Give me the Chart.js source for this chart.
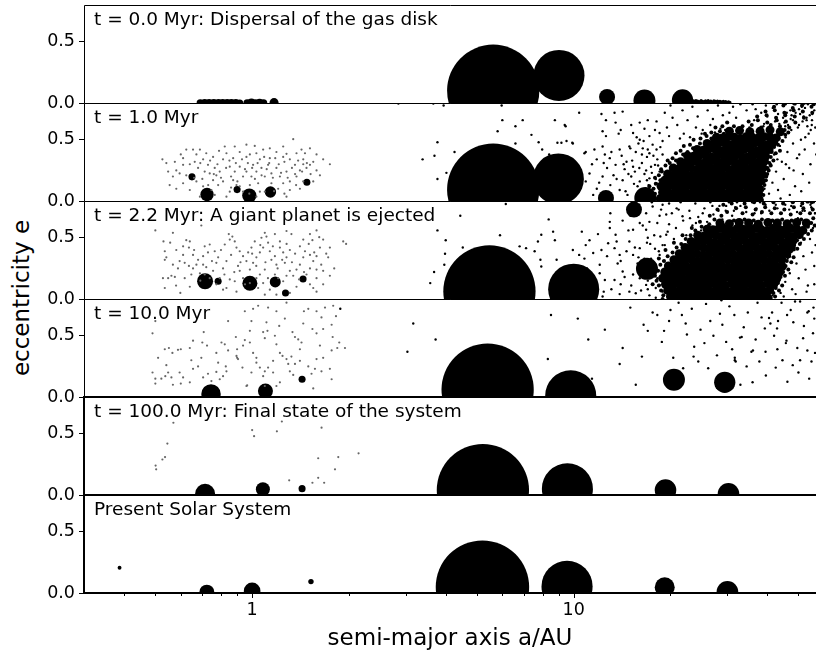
<!DOCTYPE html>
<html>
<head>
<meta charset="utf-8">
<title>Orbital evolution: eccentricity vs semi-major axis</title>
<script src="https://cdn.jsdelivr.net/npm/chart.js@4.4.1/dist/chart.umd.min.js"></script>
<style>
  html, body { margin: 0; padding: 0; background: #fff; overflow: hidden; }
  #figure { position: relative; width: 816px; height: 656px; font-family: 'DejaVu Sans', sans-serif; color: #000; }
  #figure canvas { position: absolute; left: 0; }
  #ylabel { position: absolute; left: 21px; top: 298px; transform: translate(-50%, -50%) rotate(-90deg);
            font-size: 23px; white-space: nowrap; }
</style>
</head>
<body>
<div id="figure">
  <div id="ylabel">eccentricity e</div>
</div>
<script>
// ─── Panel titles ─────────────────────────────────────────────────────────
const panelTitles = [
  't = 0.0 Myr: Dispersal of the gas disk',
  't = 1.0 Myr',
  't = 2.2 Myr: A giant planet is ejected',
  't = 10.0 Myr',
  't = 100.0 Myr: Final state of the system',
  'Present Solar System'
];

// ─── Axis ticks ───────────────────────────────────────────────────────────
const xTicks = [0.4, 0.5, 0.6, 0.7, 0.8, 0.9, 1, 2, 3, 4, 5, 6, 7, 8, 9, 10, 20, 30, 40, 50];
const xTickLabels = { 1: '1', 10: '10' };
const yTicks = [0, 0.5];

// ─── Giant planets: [a (AU), e, mass (Earth masses)] ──────────────────────
const giantsT0 = [[5.62, 0.10, 310], [9.0, 0.225, 95], [12.7, 0.05, 9.3], [16.6, 0.02, 17.6], [21.8, 0.025, 16.5]];
const giantsT1 = [[5.62, 0.092, 310], [8.96, 0.18, 95], [12.6, 0.025, 9.3], [16.7, 0.025, 17.6], [21.8, 0.02, 16.5]];
const giantsT2 = [[5.47, 0.063, 310], [10.0, 0.08, 95], [16.9, 0.246, 17.6], [15.4, 0.73, 9.3], [24.5, 0.15, 16.5]];
const giantsT10 = [[5.40, 0.06, 310], [9.79, 0.01, 95], [20.5, 0.14, 17.6], [29.5, 0.12, 16.5]];
const giantsT100 = [[5.22, 0.04, 310], [9.56, 0.05, 95], [19.3, 0.04, 17], [30.3, 0.01, 17]];
const giantsNow = [[5.203, 0.048, 317.8], [9.537, 0.054, 95.2], [19.19, 0.047, 14.5], [30.07, 0.009, 17.1]];

// ─── Rocky embryos / planets: [a (AU), e, mass (Earth masses)] ─────────────
const rockyT0 = [[0.69, 0, 0.2], [0.712, 0, 0.22], [0.735, 0.003, 0.2], [0.76, 0, 0.24], [0.786, 0.002, 0.2],
  [0.81, 0, 0.22], [0.836, 0.002, 0.2], [0.862, 0, 0.24], [0.89, 0.002, 0.2], [0.915, 0, 0.18],
  [0.965, 0, 0.2], [0.995, 0.003, 0.24], [1.025, 0, 0.2], [1.055, 0.002, 0.22], [1.085, 0, 0.2], [1.17, 0.003, 0.3]];
const rockyT1 = [[0.65, 0.197, 0.18], [0.724, 0.053, 0.65], [0.898, 0.093, 0.18], [0.98, 0.044, 0.74], [1.14, 0.074, 0.47], [1.48, 0.153, 0.18]];
const rockyT2 = [[0.714, 0.145, 0.93], [0.784, 0.145, 0.18], [0.984, 0.129, 0.82], [1.18, 0.139, 0.44], [1.27, 0.049, 0.18], [1.44, 0.164, 0.18]];
const rockyT10 = [[0.745, 0.025, 1.37], [1.10, 0.048, 0.82], [1.43, 0.145, 0.18]];
const rockyT100 = [[0.714, 0.01, 1.45], [1.08, 0.047, 0.71], [1.43, 0.052, 0.18]];
const rockyNow = [[0.387, 0.206, 0.055], [0.723, 0.007, 0.815], [1.0, 0.017, 1.0], [1.524, 0.093, 0.107]];

// ─── Inner planetesimals (flat a, e pairs) ────────────────────────────────
const innerT1 = [
  1.342,.505, .526,.34, .541,.31, .624,.42, .655,.42, .688,.42, .789,.41, .822,.445, .883,.445, 1.019,.45,
  .915,.40, .984,.38, 1.082,.42, 1.19,.40, 1.279,.385, 1.424,.42, 1.549,.32, 1.513,.295, 1.745,.30, 1.442,.34,
  1.31,.34, 1.249,.36, 1.135,.35, 1.057,.34, .96,.36, .873,.35, .812,.34, .756,.36, .704,.34, .663,.32,
  .61,.295, .581,.25, .567,.20, .554,.13, .581,.10, .61,.145, .624,.21, .679,.27, .712,.24, .729,.295,
  .765,.27, .774,.21, .793,.24, .812,.16, .784,.13, .747,.09, .704,.12, .671,.16, .64,.09, .852,.28,
  .883,.24, .915,.28, .937,.20, .873,.17, .915,.12, .852,.076, .832,.035, 1.007,.295, 1.031,.24, 1.069,.27,
  1.121,.295, 1.095,.20, 1.148,.225, 1.19,.27, 1.22,.20, 1.279,.24, 1.31,.16, 1.249,.145, 1.374,.20, 1.408,.25,
  1.359,.295, 1.442,.16, 1.549,.16, 1.586,.25, 1.625,.21, 1.408,.10, 1.31,.09, 1.279,.035, 1.044,.145, 1.057,.076,
  1.031,.035, .937,.076, .894,.13, .688,.035, .738,.225, .756,.17, .995,.20, .96,.24, .984,.13, 1.148,.145,
  1.205,.10, 1.476,.27, 1.442,.30, 1.663,.34, 1.586,.38, 1.374,.39, 1.031,.39, .832,.39, .72,.39, .671,.38,
  .61,.35, .575,.32, .595,.225, .548,.24, .96,.46, 1.135,.43, 1.249,.445, 1.46,.39, 1.513,.43, 1.095,.076,
  .765,.05, .60,.38, .64,.30, .66,.19, .69,.31, .70,.18, .74,.33, .76,.22, .78,.30, .80,.19,
  .83,.27, .85,.33, .86,.20, .89,.31, .90,.16, .93,.34, .95,.26, .97,.31, 1.00,.27, 1.02,.18,
  1.04,.31, 1.07,.21, 1.09,.36, 1.11,.26, 1.13,.31, 1.16,.19, 1.18,.35, 1.21,.30, 1.23,.23, 1.26,.32,
  1.29,.19, 1.33,.27, 1.36,.22, 1.39,.33, 1.43,.24, 1.48,.31, 1.52,.22, .86,.11, 1.17,.08, 1.37,.13,
  .73,.13, .98,.06, 1.26,.06
];
const innerT2 = [
  .50,.56, .567,.54, .695,.60, .846,.53, .868,.51, 1.095,.54, 1.108,.51, 1.279,.555, 1.325,.53, 1.513,.53,
  1.586,.56, 1.617,.505, 1.54,.48, 1.96,.45, 1.92,.47, .53,.47, .556,.46, .535,.39, .541,.34, .535,.32,
  .528,.17, .548,.17, .561,.19, .575,.18, .535,.09, .598,.05, .624,.48, .64,.47, .636,.42, .655,.36,
  .617,.295, .636,.27, .655,.25, .671,.28, .617,.17, .647,.20, .679,.32, .704,.35, .729,.38, .712,.43,
  .738,.445, .765,.39, .784,.34, .774,.295, .812,.25, .832,.31, .822,.445, .852,.485, .883,.47, .894,.42,
  .915,.39, .937,.35, .904,.27, .915,.23, .937,.17, .883,.145, .852,.16, .832,.09, .894,.06, .984,.24,
  1.007,.295, 1.031,.34, 1.057,.38, 1.082,.42, 1.121,.46, 1.135,.39, 1.148,.32, 1.177,.35, 1.19,.28, 1.22,.42,
  1.249,.38, 1.279,.34, 1.31,.40, 1.264,.295, 1.095,.24, 1.057,.20, 1.082,.13, 1.044,.09, 1.135,.076, 1.095,.035,
  1.31,.23, 1.342,.19, 1.374,.24, 1.408,.28, 1.442,.34, 1.46,.39, 1.513,.36, 1.549,.31, 1.586,.35, 1.625,.42,
  1.513,.25, 1.586,.24, 1.663,.23, 1.745,.19, 1.724,.34, 1.586,.17, 1.513,.12, 1.549,.09, 1.374,.10, 1.31,.05,
  1.19,.035, .984,.13, 1.031,.17, .756,.23, .738,.17, .793,.17, .774,.12, .812,.076, .704,.28, .688,.21,
  .712,.20, .588,.25, .595,.31, .567,.28, .61,.36, .581,.40, .61,.43, 1.476,.20, 1.205,.17, 1.249,.145,
  1.279,.19, 1.177,.20, .96,.31, .972,.38, .995,.42, 1.019,.47, 1.069,.50, 1.177,.53, 1.22,.47, 1.408,.43,
  1.442,.485, 1.663,.485, 1.745,.42, 1.663,.12, 1.586,.06, .66,.40, .69,.15, .72,.26, .75,.31, .80,.40,
  .82,.20, .86,.36, .88,.22, .92,.30, .95,.12, 1.00,.37, 1.03,.27, 1.06,.44, 1.10,.30, 1.12,.17,
  1.16,.43, 1.20,.25, 1.24,.32, 1.28,.45, 1.33,.30, 1.36,.37, 1.40,.16, 1.45,.22, 1.50,.45, 1.56,.38,
  1.64,.28, 1.70,.37, 1.80,.25, .58,.11, .64,.10
];
const innerT10 = [
  .49,.52, .50,.62, .842,.62, .51,.32, .535,.39, .551,.40, .565,.36, .588,.385, .60,.39, .541,.26,
  .49,.20, .50,.15, .522,.15, .537,.17, .548,.20, .50,.11, .567,.10, .561,.16, .595,.20, .61,.16,
  .647,.30, .655,.23, .679,.25, .695,.32, .70,.445, .707,.53, .724,.42, .64,.40, .655,.46, .774,.36,
  .784,.28, .822,.43, .832,.21, .812,.17, .828,.25, .894,.335, .904,.31, .933,.24, .937,.42, .949,.465,
  .984,.445, 1.007,.36, 1.031,.32, .965,.095, .995,.20, 1.031,.28, 1.057,.24, 1.082,.17, 1.095,.21, 1.095,.48,
  1.116,.54, 1.177,.50, 1.19,.43, 1.214,.58, 1.22,.36, 1.243,.335, 1.264,.64, 1.279,.31, 1.295,.27, 1.31,.21,
  1.335,.53, 1.359,.49, 1.391,.47, 1.408,.39, 1.424,.445, 1.442,.60, 1.449,.70, 1.495,.72, 1.586,.70, 1.685,.73,
  1.787,.745, 1.823,.66, 1.643,.65, 1.54,.555, 1.586,.52, 1.663,.555, 1.767,.59, 1.78,.49, 1.866,.445, 1.84,.40,
  1.944,.40, 1.767,.38, 1.625,.42, 1.663,.32, 1.586,.31, 1.495,.25, 1.568,.23, 1.643,.21, 1.745,.23, 1.53,.19,
  1.549,.07, 1.767,.145, 1.408,.295, 1.325,.33, 1.162,.295, 1.121,.24, 1.162,.20, 1.22,.12, 1.19,.09, 1.342,.18,
  1.359,.27, .898,.32, .949,.70, 1.007,.72, 1.044,.745, 1.121,.73, 1.279,.77, 1.19,.70, .995,.62, 1.108,.61,
  1.082,.53, .984,.54, .89,.49, .898,.39, .803,.445, .842,.38, .96,.09, 1.095,.09, .793,.145, .747,.13,
  .774,.205, .729,.19, .704,.16, .64,.12, .60,.11
];
const innerT100 = [
  .569,.59, .545,.42, .536,.31, .526,.29, .501,.24, .503,.21, 1.00,.53, 1.014,.48, 1.194,.52, 1.237,.60,
  1.644,.55, 1.605,.30, 1.853,.31, 2.143,.34, 1.81,.21, 1.605,.14, 1.54,.10, 1.675,.10, 1.304,.12
];

// ─── Outer planetesimals (flat a, e pairs) ────────────────────────────────
const outerT0 = [
  23.4,.01, 23.6,.018, 23.7,.005, 23.9,.012, 24.0,.02, 24.2,.008, 24.3,.015, 24.5,.003, 24.7,.012, 24.9,.02,
  25.0,.007, 25.2,.014, 25.3,.004, 25.6,.011, 25.7,.018, 25.9,.006, 26.0,.013, 26.2,.02, 26.4,.009, 26.6,.004,
  26.7,.016, 26.9,.01, 27.1,.005, 27.3,.018, 27.4,.008, 27.6,.013, 27.8,.004, 28.0,.016, 28.2,.009, 28.4,.005,
  28.5,.013, 28.8,.009, 29.0,.004, 29.2,.013, 29.5,.007, 29.7,.012, 30.0,.005, 30.3,.01, 30.6,.006
];
const outerT1 = [
  2.85,.795, 3.66,.795, 3.94,.78, 5.97,.78, 6.0,.66, 6.94,.66, 6.59,.61, 5.80,.57, 7.39,.54, 8.74,.66,
  9.44,.61, 3.77,.48, 6.59,.47, 7.78,.48, 7.98,.42, 8.9,.475, 9.16,.475, 9.9,.475, 4.26,.40, 3.69,.37,
  3.39,.34, 4.02,.23, 3.77,.18, 8.39,.38,
  9.38,.62, 12.2,.71, 13.4,.72, 14.2,.73, 12.6,.66, 13.5,.64, 16.05,.64, 17.0,.66, 18.1,.65, 12.3,.57,
  12.6,.53, 15.3,.555, 16.05,.50, 17.2,.53, 18.5,.555, 18.9,.49, 10.9,.40, 11.6,.42, 12.3,.445, 13.9,.42,
  14.9,.445, 15.6,.40, 16.4,.43, 17.2,.39, 18.1,.42, 18.9,.38, 11.8,.34, 12.95,.35, 13.5,.295, 14.6,.32,
  15.3,.28, 16.3,.31, 16.8,.25, 17.9,.295, 18.5,.24, 11.2,.225, 12.3,.20, 13.3,.21, 14.2,.17, 15.1,.20,
  16.05,.16, 17.2,.185, 18.1,.145, 11.8,.10, 13.9,.09, 14.7,.05, 16.4,.076, 17.6,.05, 10.4,.72, 9.5,.49,
  9.94,.47, 10.8,.39, 15.8,.12, 16.6,.22, 17.4,.28, 17.8,.10, 18.2,.34, 16.9,.36, 17.6,.46, 15.2,.33,
  14.4,.26, 13.0,.13, 12.7,.27, 16.2,.03, 17.1,.13, 18.4,.02, 15.5,.24, 14.1,.37, 15.9,.47, 17.9,.58,
  16.6,.59, 19.5,.60, 20.3,.68, 21.0,.62,
  12.0,.15, 12.4,.31, 12.9,.05, 13.1,.40, 13.6,.18, 13.8,.55, 14.3,.30, 14.5,.08, 14.8,.22, 15.0,.43,
  15.4,.14, 15.7,.52, 16.0,.27, 16.3,.38, 16.7,.09, 16.9,.17, 17.3,.07, 17.5,.23, 17.7,.37, 18.0,.18,
  18.3,.29, 18.6,.44, 17.0,.42, 16.5,.49, 15.1,.62, 14.0,.58, 12.5,.38, 11.4,.30, 10.9,.16, 11.5,.05,
  19.2,.72, 20.0,.78, 21.8,.74, 22.6,.66, 23.4,.77, 24.3,.69, 25.2,.58, 26.1,.74, 27.1,.67, 28.1,.78,
  29.1,.70, 30.2,.64, 31.3,.77, 22.0,.55, 24.0,.60, 26.6,.62, 28.6,.59, 30.5,.72, 33.0,.79, 19.8,.53,
  21.4,.51, 23.0,.52, 25.0,.55, 27.5,.56, 29.6,.58, 32.0,.68, 34.5,.74, 36.0,.79,
  38.5,.03, 39.2,.10, 39.8,.20, 40.5,.06, 41.0,.30, 41.5,.15, 42.0,.38, 42.6,.24, 43.2,.09, 43.8,.45,
  44.4,.32, 45.0,.18, 45.6,.52, 46.2,.40, 46.8,.27, 47.5,.58, 48.1,.47, 48.8,.12, 49.5,.35, 50.2,.62,
  50.9,.50, 51.6,.22, 52.3,.42, 53.0,.66, 53.8,.55, 54.5,.30, 55.2,.71, 55.9,.47, 56.4,.60, 44.0,.02,
  47.0,.05, 51.0,.08, 54.0,.15, 56.8,.38, 39.3,.30, 40.0,.37, 41.2,.43, 42.4,.50, 44.0,.55, 45.5,.61,
  47.3,.67, 49.0,.72, 51.2,.77, 53.5,.79, 38.6,.15, 39.0,.24, 43.0,.34, 45.7,.30, 48.3,.25, 50.3,.38,
  52.5,.52, 55.0,.62,
  35.2,.60, 36.4,.66, 37.7,.58, 38.3,.72, 39.1,.63, 40.0,.69, 40.9,.60, 41.6,.76, 42.3,.65, 43.2,.71,
  44.0,.59, 44.8,.68, 45.6,.79, 46.4,.62, 47.2,.74, 48.1,.66, 48.9,.79, 49.8,.60, 50.6,.71, 51.5,.65,
  52.4,.76, 53.3,.61, 54.2,.70, 55.1,.66, 56.0,.74, 36.8,.75, 39.6,.78, 43.6,.63, 47.6,.70, 51.9,.69,
  55.5,.79, 42.8,.79, 46.0,.72, 50.2,.75, 54.6,.58, 38.9,.61, 45.2,.64, 53.0,.68
];
// rim of the dense disc (medium dots)
const edgeT1 = [
  17.5,.03, 17.9,.06, 17.7,.10, 18.0,.14, 17.9,.19, 18.4,.21, 18.7,.26, 19.3,.29, 19.6,.33, 20.3,.35,
  20.8,.39, 21.5,.41, 22.0,.45, 23.0,.46, 23.6,.50, 24.8,.51, 25.6,.55, 26.8,.56, 27.6,.60, 29.0,.61,
  30.0,.64, 17.2,.12, 18.3,.01, 18.6,.17, 19.9,.31, 21.9,.38, 23.5,.43, 25.9,.53, 28.5,.57, 31.5,.61,
  18.8,.24, 20.8,.33, 22.6,.40, 24.7,.47, 26.8,.51, 29.3,.55,
  38.5,.01, 38.9,.05, 38.6,.09, 39.2,.13, 39.6,.17, 40.0,.22, 40.1,.27, 40.6,.31, 41.0,.36, 41.3,.40,
  42.0,.44, 42.6,.48, 43.4,.51, 44.2,.55, 45.3,.58, 38.0,.03, 38.5,.11, 39.7,.20, 40.4,.25, 41.8,.33,
  42.5,.39, 43.2,.46, 44.6,.49, 45.5,.54, 46.5,.56, 39.0,.16, 41.0,.29, 43.8,.41,
  33.5,.61, 35.8,.62, 38.3,.60, 41.0,.62, 43.8,.61, 46.8,.60, 35.0,.65, 37.4,.66, 40.0,.64, 42.8,.66,
  45.7,.65, 48.9,.64, 37.2,.69, 39.8,.70, 42.6,.68, 45.5,.70, 48.7,.69, 52.0,.68, 39.5,.73, 42.2,.74,
  45.2,.72, 48.3,.74, 51.6,.73, 55.2,.72, 42.0,.77, 44.9,.78, 48.0,.76, 51.3,.78, 54.9,.77, 45.0,.80,
  48.5,.795, 52.0,.80, 55.8,.79
];
const coreT1 = [
  18.6,.02, 19.5,.03, 20.3,.015, 21.2,.025, 22.1,.02, 23.1,.03, 24.1,.02, 25.2,.015, 26.3,.025, 27.4,.02,
  28.7,.03, 29.9,.02, 31.2,.025, 32.6,.015, 34.0,.03, 35.5,.02, 37.1,.025,
  18.9,.07, 19.8,.065, 20.7,.075, 21.6,.07, 22.6,.06, 23.5,.075, 24.6,.07, 25.7,.065, 26.8,.075, 28.0,.07,
  29.2,.06, 30.5,.075, 31.8,.07, 33.2,.065, 34.7,.075, 36.2,.07, 37.6,.06,
  18.7,.12, 19.6,.115, 20.4,.125, 21.4,.12, 22.3,.11, 23.3,.125, 24.3,.12, 25.4,.115, 26.5,.125, 27.7,.12,
  28.9,.11, 30.2,.125, 31.5,.12, 32.9,.115, 34.3,.125, 35.8,.12, 37.4,.115,
  19.2,.17, 20.0,.165, 20.9,.175, 21.8,.17, 22.8,.16, 23.8,.175, 24.8,.17, 25.9,.165, 27.1,.175, 28.3,.17,
  29.5,.16, 30.8,.175, 32.2,.17, 33.6,.165, 35.1,.175, 36.6,.17, 38.2,.165,
  19.6,.22, 20.5,.215, 21.4,.225, 22.3,.22, 23.3,.21, 24.3,.225, 25.4,.22, 26.5,.215, 27.7,.225, 28.9,.22,
  30.2,.21, 31.5,.225, 32.9,.22, 34.3,.215, 35.8,.225, 37.4,.22, 38.6,.215,
  20.4,.27, 21.3,.265, 22.2,.275, 23.2,.27, 24.2,.26, 25.3,.275, 26.4,.27, 27.5,.265, 28.7,.275, 30.0,.27,
  31.3,.26, 32.7,.275, 34.1,.27, 35.6,.265, 37.2,.275, 38.8,.27,
  21.5,.32, 22.4,.315, 23.4,.325, 24.4,.32, 25.5,.31, 26.6,.325, 27.8,.32, 29.0,.315, 30.3,.325, 31.6,.32,
  33.0,.31, 34.4,.325, 35.9,.32, 37.5,.315, 39.2,.325,
  22.6,.37, 23.6,.365, 24.6,.375, 25.7,.37, 26.8,.36, 28.0,.375, 29.2,.37, 30.5,.365, 31.8,.375, 33.2,.37,
  34.7,.36, 36.2,.375, 37.8,.37, 39.5,.365,
  24.2,.42, 25.3,.415, 26.4,.425, 27.6,.42, 28.8,.41, 30.0,.425, 31.3,.42, 32.7,.415, 34.1,.425, 35.6,.42,
  37.2,.41, 38.8,.425, 40.5,.42,
  26.0,.47, 27.1,.465, 28.3,.475, 29.6,.47, 30.9,.46, 32.2,.475, 33.6,.47, 35.1,.465, 36.6,.475, 38.2,.47,
  39.9,.46, 41.6,.475,
  27.8,.52, 29.0,.515, 30.3,.525, 31.6,.52, 33.0,.51, 34.4,.525, 35.9,.52, 37.5,.515, 39.1,.525, 40.8,.52,
  42.6,.515,
  30.5,.57, 32.8,.575, 35.3,.565, 38.0,.57, 40.8,.58, 43.9,.565
];
const outerT2 = [
  6.15,.776, 4.44,.68, 8.36,.65, 3.77,.56, 4.0,.48, 4.52,.42, 5.9,.52, 3.98,.37, 3.96,.28, 3.68,.22,
  3.58,.13, 6.79,.43, 7.11,.415, 7.56,.39, 7.74,.47, 7.93,.525, 8.74,.48, 8.63,.55, 7.88,.32, 7.93,.265,
  8.85,.32, 9.94,.40, 10.6,.55, 10.9,.44, 11.2,.48, 11.5,.375, 11.9,.53, 10.4,.36, 10.8,.33, 12.05,.28,
  12.05,.21, 12.5,.155, 12.4,.06, 12.95,.63, 12.95,.58, 12.8,.455, 13.4,.415, 13.5,.525, 13.9,.36, 13.7,.29,
  14.2,.225, 13.4,.155, 14.9,.06, 15.6,.047, 14.9,.47, 15.3,.565, 16.05,.62, 16.8,.70, 17.6,.755, 16.8,.565,
  17.0,.50, 16.05,.415, 15.3,.36, 15.8,.29, 15.3,.20, 16.05,.17, 16.8,.115, 17.6,.20, 18.0,.28, 18.5,.36,
  18.9,.44, 19.4,.525, 19.8,.61, 19.4,.69, 18.7,.73, 20.9,.74, 21.8,.675, 18.5,.115, 18.9,.06, 20.3,.155,
  17.2,.03, 16.3,.24, 17.4,.33, 14.6,.39, 14.0,.12, 17.9,.41, 18.2,.17, 17.0,.08, 15.9,.34, 16.9,.46,
  11.0,.25, 11.6,.12, 12.2,.40, 12.7,.35, 13.1,.08, 13.6,.47, 14.0,.31, 14.4,.18, 14.8,.56, 15.1,.11,
  15.5,.42, 15.9,.24, 16.2,.07, 16.6,.33, 17.0,.15, 17.3,.45, 17.7,.26, 18.0,.09, 18.4,.39, 18.8,.19,
  19.0,.31, 17.8,.52, 16.4,.60, 15.0,.68, 17.2,.63, 18.5,.68, 14.2,.64, 13.0,.70, 16.0,.77, 17.5,.79,
  19.8,.78, 12.3,.02, 13.9,.04, 19.3,.05, 18.0,.01,
  18.2,.62, 18.9,.77, 19.6,.55, 20.2,.70, 20.8,.58, 21.5,.79, 21.9,.64, 22.4,.52, 22.9,.72, 23.4,.60,
  23.9,.78, 24.4,.67, 24.9,.56, 25.5,.74, 26.0,.63, 26.6,.79, 27.2,.69, 27.8,.59, 28.4,.76, 29.0,.65,
  29.7,.72, 30.4,.79, 31.1,.68, 31.8,.75, 32.5,.62, 20.5,.49, 19.2,.44, 18.6,.51, 23.0,.66, 25.2,.70,
  27.0,.76, 29.3,.61, 21.2,.73, 24.0,.62,
  41.5,.03, 42.5,.09, 43.2,.18, 44.0,.05, 44.8,.26, 45.5,.14, 46.3,.33, 47.0,.21, 47.8,.08, 48.6,.40,
  49.3,.29, 50.1,.17, 50.9,.46, 51.8,.35, 52.6,.24, 53.5,.11, 54.3,.49, 55.1,.38, 56.0,.27, 56.5,.44,
  45.0,.02, 49.0,.04, 53.0,.06, 56.0,.12, 55.5,.58, 53.8,.62, 52.0,.55, 50.5,.58, 56.3,.70, 54.8,.75,
  42.0,.30, 43.5,.36, 46.0,.45, 48.0,.52, 44.5,.42, 40.8,.22, 41.3,.12, 47.5,.60, 49.8,.66, 51.5,.72,
  55.8,.79, 53.2,.79,
  31.5,.72, 33.0,.76, 34.4,.71, 35.9,.79, 37.0,.74, 38.3,.70, 39.5,.77, 40.6,.72, 41.8,.79, 43.0,.74,
  44.3,.70, 45.5,.77, 46.8,.73, 48.2,.79, 49.5,.71, 50.9,.76, 52.3,.72, 53.7,.79, 55.1,.74, 56.3,.70,
  32.2,.79, 36.5,.70, 42.5,.77, 47.5,.76, 51.5,.79, 54.5,.77, 38.0,.79, 44.8,.79, 29.8,.76, 28.2,.72
];
const edgeT2 = [
  19.0,.03, 18.7,.07, 18.4,.11, 18.1,.15, 17.9,.19, 18.3,.23, 18.6,.28, 19.1,.31, 19.6,.35, 20.3,.38,
  20.9,.42, 21.6,.45, 22.3,.49, 23.1,.52, 23.9,.56, 25.0,.59, 26.4,.61, 27.4,.65, 28.8,.68, 30.0,.71,
  18.9,.0, 17.6,.12, 17.9,.25, 18.4,.33, 19.3,.40, 20.5,.46, 21.8,.52, 23.3,.58, 24.7,.63, 26.5,.68,
  28.0,.73, 29.2,.77, 31.0,.78,
  41.0,.01, 41.8,.05, 42.5,.09, 43.2,.13, 44.0,.18, 44.8,.22, 45.6,.27, 46.0,.31, 46.8,.35, 47.4,.39,
  48.5,.44, 49.5,.48, 51.0,.51, 52.4,.55, 53.5,.59, 54.8,.62, 55.6,.66, 42.3,.02, 43.5,.07, 44.5,.11,
  45.4,.19, 46.5,.24, 47.5,.30, 48.3,.34, 49.6,.41, 50.5,.45, 52.0,.49, 53.6,.53, 55.0,.56, 56.2,.60,
  31.5,.64, 34.0,.65, 36.3,.64, 38.5,.65, 41.5,.64, 44.5,.65, 47.6,.64, 51.0,.65, 33.5,.70, 36.0,.69,
  38.5,.71, 41.2,.70, 44.1,.70, 47.3,.69, 50.7,.70, 54.3,.70,
  32.0,.74, 34.3,.75, 36.8,.73, 39.4,.75, 42.2,.74, 45.2,.73, 48.4,.75, 51.8,.74, 55.4,.73, 34.0,.78,
  36.4,.79, 39.0,.78, 41.8,.79, 44.8,.78, 48.0,.79, 51.4,.78, 55.0,.79
];
const coreT2 = [
  20.0,.02, 20.9,.03, 21.8,.015, 22.8,.025, 23.8,.02, 24.8,.03, 25.9,.015, 27.1,.025, 28.3,.02, 29.5,.03,
  30.8,.02, 32.2,.025, 33.6,.015, 35.1,.03, 36.6,.02, 38.2,.025, 39.9,.02,
  19.6,.07, 20.5,.065, 21.4,.075, 22.3,.07, 23.3,.06, 24.3,.075, 25.4,.07, 26.5,.065, 27.7,.075, 28.9,.07,
  30.2,.06, 31.5,.075, 32.9,.07, 34.3,.065, 35.8,.075, 37.4,.07, 39.0,.06, 40.7,.075,
  19.3,.12, 20.2,.115, 21.1,.125, 22.0,.12, 23.0,.11, 24.0,.125, 25.0,.12, 26.1,.115, 27.3,.125, 28.5,.12,
  29.7,.11, 31.0,.125, 32.4,.12, 33.8,.115, 35.3,.125, 36.9,.12, 38.5,.11, 40.2,.125, 41.9,.12,
  18.9,.17, 19.8,.165, 20.6,.175, 21.5,.17, 22.5,.16, 23.5,.175, 24.5,.17, 25.6,.165, 26.7,.175, 27.9,.17,
  29.1,.16, 30.4,.175, 31.7,.17, 33.1,.165, 34.6,.175, 36.1,.17, 37.7,.16, 39.3,.175, 41.0,.17, 42.8,.165,
  19.2,.22, 20.1,.215, 21.0,.225, 21.9,.22, 22.9,.21, 23.9,.225, 24.9,.22, 26.0,.215, 27.2,.225, 28.4,.22,
  29.6,.21, 30.9,.225, 32.3,.22, 33.7,.215, 35.2,.225, 36.7,.22, 38.3,.21, 40.0,.225, 41.8,.22, 43.6,.215,
  19.7,.27, 20.5,.265, 21.4,.275, 22.4,.27, 23.4,.26, 24.4,.275, 25.5,.27, 26.6,.265, 27.7,.275, 29.0,.27,
  30.2,.26, 31.6,.275, 33.0,.27, 34.4,.265, 35.9,.275, 37.5,.27, 39.1,.26, 40.8,.275, 42.6,.27, 44.5,.265,
  20.5,.32, 21.4,.315, 22.3,.325, 23.3,.32, 24.3,.31, 25.4,.325, 26.5,.32, 27.7,.315, 28.9,.325, 30.2,.32,
  31.5,.31, 32.9,.325, 34.3,.32, 35.8,.315, 37.4,.325, 39.0,.32, 40.7,.31, 42.5,.325, 44.4,.32,
  21.3,.37, 22.2,.365, 23.2,.375, 24.2,.37, 25.3,.36, 26.4,.375, 27.6,.37, 28.8,.365, 30.0,.375, 31.3,.37,
  32.7,.36, 34.1,.375, 35.6,.37, 37.2,.365, 38.8,.375, 40.5,.37, 42.3,.36, 44.1,.375, 46.0,.37,
  22.2,.42, 23.2,.415, 24.2,.425, 25.3,.42, 26.4,.41, 27.5,.425, 28.7,.42, 30.0,.415, 31.3,.425, 32.7,.42,
  34.1,.41, 35.6,.425, 37.1,.42, 38.8,.415, 40.5,.425, 42.2,.42, 44.1,.41, 46.0,.425, 47.5,.42,
  23.2,.47, 24.2,.465, 25.3,.475, 26.4,.47, 27.5,.46, 28.8,.475, 30.0,.47, 31.3,.465, 32.7,.475, 34.2,.47,
  35.7,.46, 37.2,.475, 38.8,.47, 40.5,.465, 42.3,.475, 44.2,.47, 46.1,.46, 48.1,.475,
  24.3,.52, 25.4,.515, 26.5,.525, 27.6,.52, 28.8,.51, 30.1,.525, 31.4,.52, 32.8,.515, 34.2,.525, 35.7,.52,
  37.3,.51, 38.9,.525, 40.6,.52, 42.4,.515, 44.3,.525, 46.2,.52, 48.2,.51, 50.3,.525,
  26.0,.57, 27.1,.565, 28.3,.575, 29.5,.57, 30.8,.56, 32.2,.575, 33.6,.57, 35.1,.565, 36.6,.575, 38.2,.57,
  39.9,.56, 41.6,.575, 43.5,.57, 45.4,.565, 47.4,.575, 49.4,.57, 51.6,.56,
  28.5,.62, 30.5,.615, 32.7,.625, 35.0,.62, 37.5,.61, 40.2,.625, 43.0,.62, 46.1,.615, 49.4,.625, 52.9,.62
];
const outerT10 = [
  1.88,.72, 3.17,.60, 3.72,.47, 3.04,.37, 8.5,.67, 10.3,.64, 11.1,.47, 8.31,.31, 11.4,.15, 13.9,.27,
  15.6,.10, 17.6,.69, 18.2,.67, 20.0,.71, 21.7,.67, 16.5,.59, 17.0,.54, 19.1,.54, 22.3,.60, 22.5,.51,
  26.6,.62, 29.0,.59, 31.6,.67, 34.8,.69, 40.5,.645, 43.2,.62, 46.1,.67, 48.2,.61, 53.3,.69, 55.7,.73,
  39.3,.56, 42.9,.56, 45.9,.46, 51.7,.48, 45.7,.44, 43.0,.39, 39.5,.37, 36.1,.38, 35.7,.37, 31.7,.32,
  31.7,.30, 31.1,.39, 29.8,.45, 25.5,.44, 23.7,.41, 24.4,.29, 26.2,.235, 37.8,.29, 39.6,.175, 46.2,.125,
  48.0,.26, 50.6,.30, 53.3,.38, 54.9,.29, 21.9,.235, 20.4,.32, 23.6,.33, 33.3,.49, 32.9,.485, 40.9,.60,
  41.4,.69, 31.9,.29, 54.0,.15, 44.3,.77, 48.8,.78, 50.6,.78, 53.8,.70,
  12.5,.55, 14.2,.40, 15.0,.73, 16.3,.33, 18.8,.45, 19.8,.62, 21.2,.77, 23.3,.72, 24.8,.55, 27.2,.50,
  27.9,.34, 28.5,.68, 30.5,.74, 33.8,.57, 34.5,.25, 36.8,.47, 37.3,.77, 38.4,.65, 42.0,.50, 44.6,.30,
  47.3,.71, 49.6,.40, 52.0,.58, 55.5,.52, 56.3,.36, 50.0,.20, 42.5,.24, 36.0,.12, 33.0,.10, 56.0,.64,
  25.8,.76, 28.8,.79
];

// ─── Helpers ──────────────────────────────────────────────────────────────
const GIANT_K = 2.62;   // px per sqrt(Earth mass)
const ROCKY_K = 8.3;
const FONT = 'DejaVu Sans';
const PANEL_TOP = 5, PANEL_H = 98, PAD = 12;

function pts(flat) {
  const out = [];
  for (let i = 0; i < flat.length; i += 2) out.push({ x: flat[i], y: flat[i + 1] });
  return out;
}
function bodies(list) {
  return list.map(([a, e, m]) => ({ x: a, y: e, m }));
}

const panels = [
  { giants: giantsT0, rocky: rockyT0, inner: [], outer: outerT0, edge: [], core: [], frame: 1, dot: 1.6 },
  { giants: giantsT1, rocky: rockyT1, inner: innerT1, outer: outerT1, edge: edgeT1, core: coreT1, frame: 1, dot: 1.2 },
  { giants: giantsT2, rocky: rockyT2, inner: innerT2, outer: outerT2, edge: edgeT2, core: coreT2, frame: 1, dot: 1.2 },
  { giants: giantsT10, rocky: rockyT10, inner: innerT10, outer: outerT10, edge: [], core: [], frame: 1, dot: 1.2 },
  { giants: giantsT100, rocky: rockyT100, inner: innerT100, outer: [], edge: [], core: [], frame: 2, dot: 1.2 },
  { giants: giantsNow, rocky: rockyNow, inner: [], outer: [], edge: [], core: [], frame: 2, dot: 1.2 }
];

// ─── Frame, panel label and x tick marks ──────────────────────────────────
const panelFrame = {
  id: 'panelFrame',
  afterDatasetsDraw(chart, args, opts) {
    const { ctx, chartArea: { left, top, right, bottom } } = chart;
    const w = opts.width;
    const h = w % 2 ? 0.5 : 0;
    ctx.save();
    ctx.strokeStyle = '#000';
    ctx.lineWidth = w;
    ctx.beginPath();
    ctx.moveTo(right + 4, top + h);
    ctx.lineTo(left + h, top + h);
    ctx.lineTo(left + h, bottom + h);
    ctx.lineTo(right + 4, bottom + h);
    ctx.stroke();

    if (opts.xTicks) {
      const xs = chart.scales.x;
      ctx.lineWidth = 1;
      ctx.beginPath();
      xs.ticks.forEach(t => {
        const px = Math.round(xs.getPixelForValue(t.value)) + 0.5;
        ctx.moveTo(px, bottom);
        ctx.lineTo(px, bottom + (t.major ? 5 : 3));
      });
      ctx.stroke();
    }

    ctx.fillStyle = '#000';
    ctx.font = '18.5px "' + FONT + '"';
    ctx.textBaseline = 'alphabetic';
    ctx.fillText(opts.label, left + 10, top + 19.5);
    ctx.restore();
  }
};

Chart.defaults.font.family = FONT;
Chart.defaults.color = '#000';

const fig = document.getElementById('figure');

panels.forEach((p, i) => {
  const isLast = i === panels.length - 1;
  const top = PANEL_TOP + i * PANEL_H;
  const canvas = document.createElement('canvas');
  const cTop = top - PAD;
  const h = isLast ? 656 - cTop : PANEL_H + 2 * PAD;
  canvas.width = 816;
  canvas.height = h;
  canvas.style.top = cTop + 'px';
  fig.appendChild(canvas);

  new Chart(canvas, {
    type: 'scatter',
    data: {
      datasets: [
        { data: pts(p.inner), pointRadius: 1.1, pointBackgroundColor: '#666', clip: 0 },
        { data: pts(p.outer), pointRadius: p.dot, pointBackgroundColor: '#000', clip: 0 },
        { data: pts(p.edge), pointRadius: 2, pointBackgroundColor: '#000', clip: 0 },
        // dense part of the scattered disc, drawn with heavier dots
        { data: pts(p.core), pointRadius: 4.5, pointBackgroundColor: '#000', clip: 0 },
        { data: bodies(p.rocky), pointRadius: c => c.raw ? ROCKY_K * Math.sqrt(c.raw.m) : 0,
          pointBackgroundColor: '#000', clip: 0 },
        { data: bodies(p.giants), pointRadius: c => c.raw ? GIANT_K * Math.sqrt(c.raw.m) : 0,
          pointBackgroundColor: '#000', clip: 0 }
      ]
    },
    options: {
      responsive: false,
      animation: false,
      events: [],
      layout: { autoPadding: false, padding: { top: PAD, bottom: isLast ? 0 : PAD, left: 0, right: 0 } },
      elements: { point: { borderWidth: 0, hoverRadius: 0, hitRadius: 0 } },
      plugins: {
        legend: { display: false },
        tooltip: { enabled: false },
        panelFrame: { width: p.frame, label: panelTitles[i], xTicks: isLast }
      },
      scales: {
        x: {
          type: 'logarithmic',
          min: 0.3,
          max: 56.7,
          display: isLast,
          afterBuildTicks: s => { s.ticks = xTicks.map(v => ({ value: v, major: v === 1 || v === 10 })); },
          afterFit: s => {
            if (isLast) s.height = 63;
            s.paddingLeft = 0;
            s.paddingRight = 0;
          },
          ticks: {
            autoSkip: false, maxRotation: 0, padding: 2,
            font: { size: 17.5 },
            callback: v => xTickLabels[v] || ''
          },
          grid: { display: false, drawTicks: true, tickLength: 5 },
          border: { display: false },
          title: { display: isLast, text: 'semi-major axis a/AU', font: { size: 23 }, padding: { top: 4, bottom: 3 } }
        },
        y: {
          min: 0,
          max: 0.8,
          afterBuildTicks: s => { s.ticks = yTicks.map(v => ({ value: v })); },
          afterFit: s => { s.width = 84; s.paddingTop = 0; s.paddingBottom = 0; },
          ticks: { padding: 4, font: { size: 17.5 }, callback: v => v.toFixed(1) },
          grid: { drawOnChartArea: false, tickLength: 5, color: '#000', lineWidth: 1 },
          border: { display: false }
        }
      }
    },
    plugins: [panelFrame]
  });
});
</script>
</body>
</html>
